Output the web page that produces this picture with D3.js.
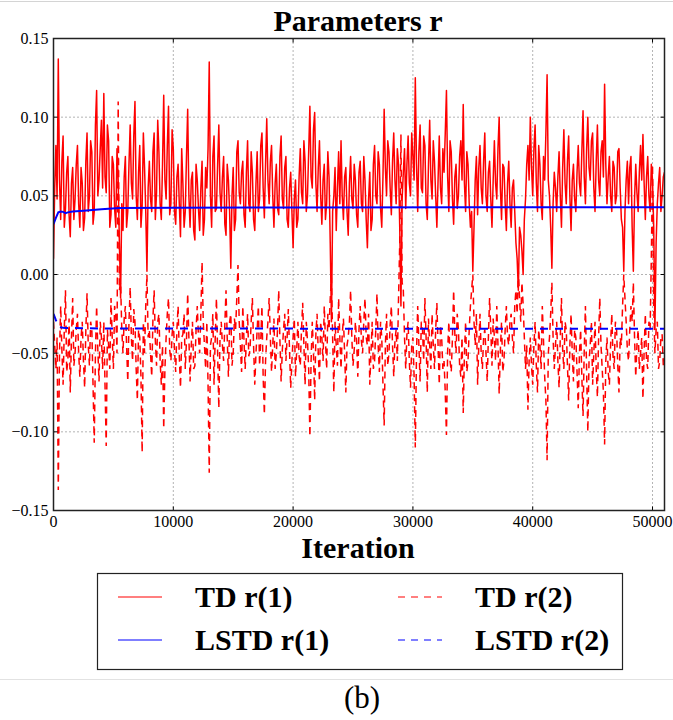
<!DOCTYPE html>
<html>
<head>
<meta charset="utf-8">
<script src="https://cdn.jsdelivr.net/npm/d3@7"></script>
<style>
  body { margin: 0; background: #fff; }
  svg text { font-family: "Liberation Serif", "Times New Roman", serif; }
</style>
</head>
<body>
<svg id="chart" width="673" height="720" font-family="Liberation Serif, serif"></svg>
<script>
// TD estimates, one value every 100 iterations (0 .. 51000)
var tdStep = 100;
var tdR1 = [
  0.010, 0.055, 0.082, 0.048, 0.137, 0.060, 0.035, 0.072, 0.088, 0.030, 0.042, 0.065, 0.075, 0.038, 0.024, 0.058, 0.068, 0.035, 0.048, 0.070,
  0.082, 0.045, 0.030, 0.068, 0.058, 0.028, 0.036, 0.072, 0.090, 0.040, 0.050, 0.085, 0.078, 0.032, 0.040, 0.095, 0.117, 0.050, 0.060, 0.080,
  0.098, 0.055, 0.115, 0.062, 0.052, 0.095, 0.085, 0.030, 0.038, 0.075, 0.070, 0.042, 0.030, 0.080, 0.060, 0.020, -0.015, 0.045, 0.028, 0.062,
  0.075, 0.030, 0.040, 0.070, 0.095, 0.058, 0.048, 0.088, 0.110, 0.050, 0.035, 0.065, 0.082, 0.030, 0.044, 0.090, 0.068, 0.040, 0.002, 0.055,
  0.072, 0.048, 0.040, 0.078, 0.090, 0.035, 0.052, 0.098, 0.078, 0.045, 0.035, 0.070, 0.114, 0.060, 0.048, 0.082, 0.107, 0.038, 0.045, 0.092,
  0.080, 0.040, 0.032, 0.062, 0.070, 0.045, 0.024, 0.080, 0.058, 0.030, 0.040, 0.075, 0.105, 0.050, 0.030, 0.060, 0.065, 0.028, 0.022, 0.070,
  0.060, 0.042, 0.028, 0.055, 0.072, 0.025, 0.035, 0.068, 0.055, 0.080, 0.135, 0.050, 0.030, 0.075, 0.088, 0.040, 0.042, 0.070, 0.095, 0.052,
  0.040, 0.062, 0.075, 0.032, 0.025, 0.070, 0.060, 0.040, 0.004, 0.050, 0.068, 0.028, 0.035, 0.078, 0.085, 0.052, 0.045, 0.065, 0.072, 0.038,
  0.030, 0.065, 0.085, 0.045, 0.040, 0.078, 0.065, 0.035, 0.028, 0.058, 0.078, 0.040, 0.048, 0.082, 0.090, 0.055, 0.036, 0.070, 0.099, 0.060,
  0.045, 0.072, 0.082, 0.050, 0.030, 0.058, 0.070, 0.042, 0.038, 0.075, 0.088, 0.048, 0.042, 0.068, 0.075, 0.035, 0.030, 0.055, 0.065, 0.040,
  0.017, 0.048, 0.060, 0.030, 0.035, 0.062, 0.080, 0.052, 0.045, 0.085, 0.072, 0.040, 0.050, 0.078, 0.107, 0.062, 0.055, 0.092, 0.103, 0.058,
  0.040, 0.068, 0.085, 0.050, 0.032, 0.060, 0.070, 0.035, 0.045, 0.078, 0.062, 0.020, -0.030, 0.040, 0.050, 0.068, 0.028, 0.055, 0.078, 0.045,
  0.085, 0.050, 0.035, 0.062, 0.068, 0.040, 0.025, 0.058, 0.075, 0.048, 0.042, 0.070, 0.060, 0.038, 0.030, 0.065, 0.072, 0.045, 0.040, 0.075,
  0.060, 0.035, 0.017, 0.048, 0.065, 0.028, 0.035, 0.070, 0.082, 0.050, 0.045, 0.078, 0.070, 0.042, 0.030, 0.062, 0.105, 0.068, 0.050, 0.085,
  0.078, 0.055, 0.038, 0.072, 0.090, 0.060, 0.045, 0.080, 0.070, 0.030, -0.020, 0.048, 0.065, 0.080, 0.042, 0.070, 0.088, 0.058, 0.050, 0.090,
  0.075, 0.060, 0.125, 0.070, 0.040, 0.078, 0.095, 0.055, 0.052, 0.088, 0.082, 0.045, 0.035, 0.070, 0.098, 0.060, 0.048, 0.085, 0.072, 0.050,
  0.030, 0.060, 0.088, 0.055, 0.045, 0.080, 0.065, 0.090, 0.117, 0.062, 0.040, 0.085, 0.078, 0.048, 0.032, 0.062, 0.070, 0.042, 0.050, 0.075,
  0.085, 0.060, 0.108, 0.058, 0.040, 0.078, 0.070, 0.045, 0.030, 0.040, 0.002, 0.030, 0.060, 0.075, 0.038, 0.068, 0.082, 0.055, 0.045, 0.072,
  0.090, 0.050, 0.040, 0.065, 0.072, 0.048, 0.030, 0.060, 0.085, 0.058, 0.048, 0.080, 0.100, 0.055, 0.035, 0.070, 0.068, 0.045, 0.028, 0.058,
  0.072, 0.045, 0.030, 0.055, 0.060, 0.040, 0.020, 0.010, -0.010, 0.030, 0.025, 0.015, 0.000, 0.035, 0.048, 0.070, 0.082, 0.060, 0.100, 0.068,
  0.050, 0.080, 0.095, 0.058, 0.040, 0.082, 0.070, 0.045, 0.035, 0.075, 0.060, 0.090, 0.127, 0.060, 0.050, 0.030, 0.004, 0.045, 0.065, 0.055,
  0.040, 0.062, 0.078, 0.050, 0.030, 0.068, 0.092, 0.058, 0.045, 0.072, 0.088, 0.050, 0.028, 0.060, 0.070, 0.048, 0.040, 0.065, 0.082, 0.058,
  0.050, 0.078, 0.104, 0.062, 0.045, 0.080, 0.100, 0.068, 0.060, 0.085, 0.090, 0.055, 0.040, 0.072, 0.095, 0.060, 0.050, 0.078, 0.085, 0.062,
  0.121, 0.070, 0.045, 0.062, 0.075, 0.050, 0.040, 0.072, 0.068, 0.045, 0.050, 0.078, 0.080, 0.055, 0.035, 0.030, 0.002, 0.040, 0.060, 0.072,
  0.045, 0.068, 0.075, 0.030, 0.002, 0.048, 0.070, 0.052, 0.040, 0.065, 0.082, 0.060, 0.089, 0.058, 0.035, 0.062, 0.075, 0.050, 0.040, 0.070,
  0.060, 0.030, -0.035, 0.020, 0.045, 0.058, 0.068, 0.040, 0.050, 0.062, 0.065
];
var tdR2 = [
  -0.030, -0.045, -0.060, -0.040, -0.137, -0.050, -0.020, -0.048, -0.070, -0.035, -0.010, -0.062, -0.055, -0.028, -0.075, -0.040, -0.015, -0.058, -0.050, -0.035,
  -0.025, -0.050, -0.065, -0.040, -0.030, -0.055, -0.072, -0.035, -0.012, -0.045, -0.058, -0.030, -0.035, -0.070, -0.107, -0.050, -0.020, -0.048, -0.068, -0.030,
  -0.040, -0.060, -0.030, -0.070, -0.109, -0.035, -0.045, -0.060, -0.015, -0.040, -0.060, -0.020, -0.025, -0.050, 0.110, -0.010, -0.005, -0.035, -0.050, -0.028,
  -0.020, -0.045, -0.068, -0.030, -0.008, -0.040, -0.055, -0.022, -0.030, -0.060, -0.080, -0.035, -0.040, -0.065, -0.113, -0.030, -0.050, -0.020, 0.000, -0.040,
  -0.035, -0.050, -0.065, -0.028, -0.010, -0.042, -0.058, -0.030, -0.025, -0.055, -0.070, -0.045, -0.098, -0.060, -0.040, -0.025, -0.015, -0.048, -0.055, -0.038,
  -0.030, -0.048, -0.062, -0.035, -0.020, -0.052, -0.072, -0.040, -0.038, -0.025, -0.060, -0.042, -0.012, -0.040, -0.068, -0.045, -0.030, -0.060, -0.058, -0.035,
  -0.020, -0.040, -0.050, -0.025, 0.008, -0.030, -0.045, -0.060, -0.030, -0.070, -0.126, -0.045, -0.040, -0.025, -0.070, -0.040, -0.015, -0.050, -0.085, -0.040,
  -0.030, -0.045, -0.055, -0.032, -0.010, -0.040, -0.065, -0.030, -0.025, -0.058, -0.050, -0.028, -0.035, -0.015, 0.006, -0.030, -0.045, -0.062, -0.020, -0.042,
  -0.060, -0.040, -0.025, -0.052, -0.048, -0.030, -0.015, -0.045, -0.070, -0.050, -0.035, -0.020, -0.058, -0.042, -0.020, -0.065, -0.089, -0.055, -0.040, -0.030,
  -0.015, -0.040, -0.062, -0.045, -0.028, -0.060, -0.050, -0.035, -0.010, -0.042, -0.068, -0.048, -0.035, -0.025, -0.055, -0.040, -0.022, -0.048, -0.072, -0.055,
  -0.040, -0.028, -0.065, -0.048, -0.030, -0.052, -0.058, -0.035, -0.018, -0.045, -0.070, -0.030, -0.042, -0.060, -0.103, -0.055, -0.030, -0.050, -0.080, -0.038,
  -0.025, -0.050, -0.068, -0.030, -0.040, -0.055, -0.020, -0.042, -0.060, -0.025, -0.035, -0.015, -0.002, -0.040, -0.075, -0.030, -0.045, -0.058, -0.015, -0.040,
  -0.060, -0.038, -0.028, -0.050, -0.075, -0.045, -0.040, -0.030, -0.010, -0.040, -0.058, -0.048, -0.030, -0.042, -0.065, -0.035, -0.020, -0.042, -0.050, -0.030,
  -0.015, -0.040, -0.045, -0.025, -0.070, -0.050, -0.030, -0.060, -0.055, -0.035, -0.012, -0.045, -0.062, -0.030, -0.040, -0.070, -0.096, -0.045, -0.025, -0.058,
  -0.050, -0.032, -0.020, -0.045, -0.065, -0.042, -0.035, -0.055, -0.015, 0.020, 0.089, -0.005, -0.010, -0.040, -0.060, -0.038, -0.030, -0.055, -0.072, -0.045,
  -0.040, -0.065, -0.110, -0.050, -0.020, -0.045, -0.068, -0.030, -0.035, -0.055, -0.015, -0.040, -0.075, -0.028, -0.045, -0.060, -0.025, -0.045, -0.060, -0.035,
  -0.018, -0.045, -0.070, -0.032, -0.040, -0.060, -0.055, -0.075, -0.102, -0.048, -0.030, -0.055, -0.062, -0.040, -0.010, -0.038, -0.050, -0.025, -0.035, -0.058,
  -0.065, -0.040, -0.088, -0.050, -0.030, -0.062, -0.055, -0.035, -0.020, -0.010, 0.000, -0.030, -0.045, -0.025, -0.070, -0.045, -0.025, -0.050, -0.060, -0.040,
  -0.035, -0.050, -0.068, -0.040, -0.015, -0.035, -0.058, -0.028, -0.040, -0.055, -0.020, -0.045, -0.076, -0.048, -0.030, -0.062, -0.055, -0.035, -0.020, -0.040,
  -0.045, -0.030, -0.025, -0.040, -0.050, -0.020, -0.010, -0.025, 0.002, -0.015, -0.030, -0.005, -0.019, -0.040, -0.060, -0.045, -0.086, -0.055, -0.040, -0.058,
  -0.070, -0.045, -0.030, -0.058, -0.075, -0.035, -0.045, -0.060, -0.020, -0.042, -0.065, -0.080, -0.118, -0.050, -0.040, -0.025, -0.005, -0.040, -0.060, -0.045,
  -0.030, -0.055, -0.072, -0.040, -0.015, -0.048, -0.060, -0.030, -0.035, -0.058, -0.080, -0.045, -0.025, -0.050, -0.068, -0.035, -0.040, -0.062, -0.085, -0.050,
  -0.035, -0.065, -0.090, -0.048, -0.020, -0.062, -0.100, -0.055, -0.045, -0.030, -0.070, -0.050, -0.030, -0.060, -0.078, -0.040, -0.015, -0.045, -0.060, -0.075,
  -0.108, -0.055, -0.040, -0.062, -0.070, -0.045, -0.025, -0.052, -0.060, -0.030, -0.035, -0.058, -0.075, -0.040, -0.045, -0.020, 0.000, -0.015, -0.030, -0.048,
  -0.055, -0.035, -0.020, -0.030, -0.005, -0.040, -0.065, -0.045, -0.035, -0.060, -0.050, -0.040, -0.079, -0.048, -0.025, -0.055, -0.060, -0.030, -0.035, 0.010,
  0.070, -0.020, -0.050, -0.035, -0.030, -0.060, -0.055, -0.040, -0.038, -0.058, -0.053
];

// LSTD estimates (smooth, so fewer points)
var lstdIter = [0, 200, 400, 600, 800, 1000, 1200, 1600, 2500, 4000, 5500, 10000, 20000, 35000, 51000];
var lstdR1 = [0.032, 0.036, 0.0395, 0.040, 0.0398, 0.039, 0.0395, 0.040, 0.0405, 0.0415, 0.0423, 0.0425, 0.0426, 0.0427, 0.0428];
var lstdR2 = [-0.025, -0.029, -0.0325, -0.0335, -0.0338, -0.034, -0.034, -0.034, -0.0342, -0.0343, -0.0344, -0.0344, -0.0344, -0.0345, -0.0345];

var xTicks = [0, 10000, 20000, 30000, 40000, 50000];
var yTicks = [-0.15, -0.10, -0.05, 0.00, 0.05, 0.10, 0.15];

var svg = d3.select("#chart");
var pLeft = 53.5, pRight = 664.5, pTop = 38.5, pBottom = 510.5;

var x = d3.scaleLinear().domain([0, 51000]).range([pLeft, pRight]);
var y = d3.scaleLinear().domain([-0.15, 0.15]).range([pBottom, pTop]);

// page separators
svg.append("line").attr("x1", 0).attr("x2", 673).attr("y1", 1.5).attr("y2", 1.5)
  .attr("stroke", "#d4d4d4").attr("stroke-width", 1);
svg.append("line").attr("x1", 0).attr("x2", 673).attr("y1", 679.5).attr("y2", 679.5)
  .attr("stroke", "#e2e2e2").attr("stroke-width", 1);

// grid
svg.append("g").selectAll("line").data(xTicks.slice(1)).join("line")
  .attr("x1", d => x(d)).attr("x2", d => x(d)).attr("y1", pTop).attr("y2", pBottom)
  .attr("stroke", "#000").attr("stroke-width", 0.6).attr("stroke-dasharray", "1,3");
svg.append("g").selectAll("line").data(yTicks.slice(1, -1)).join("line")
  .attr("x1", pLeft).attr("x2", pRight).attr("y1", d => y(d)).attr("y2", d => y(d))
  .attr("stroke", "#000").attr("stroke-width", 0.6).attr("stroke-dasharray", "1,3");

svg.append("clipPath").attr("id", "plot")
  .append("rect").attr("x", pLeft).attr("y", pTop).attr("width", pRight - pLeft).attr("height", pBottom - pTop);

var plot = svg.append("g").attr("clip-path", "url(#plot)");

var tdLine = d3.line().x((d, i) => x(i * tdStep)).y(d => y(d));
var lstdLine = d3.line().x((d, i) => x(lstdIter[i])).y(d => y(d));

plot.append("path").datum(tdR1).attr("d", tdLine)
  .attr("fill", "none").attr("stroke", "#ff0000").attr("stroke-width", 1.5)
  .attr("stroke-linejoin", "round");
plot.append("path").datum(tdR2).attr("d", tdLine)
  .attr("fill", "none").attr("stroke", "#ff0000").attr("stroke-width", 1.5)
  .attr("stroke-dasharray", "7,5");
plot.append("path").datum(lstdR1).attr("d", lstdLine)
  .attr("fill", "none").attr("stroke", "#0000ff").attr("stroke-width", 2);
plot.append("path").datum(lstdR2).attr("d", lstdLine)
  .attr("fill", "none").attr("stroke", "#0000ff").attr("stroke-width", 2)
  .attr("stroke-dasharray", "8,7");

// inner ticks on all sides
var tk = svg.append("g").attr("stroke", "#000").attr("stroke-width", 1);
xTicks.forEach(function(t) {
  tk.append("line").attr("x1", x(t)).attr("x2", x(t)).attr("y1", pBottom).attr("y2", pBottom - 4);
  tk.append("line").attr("x1", x(t)).attr("x2", x(t)).attr("y1", pTop).attr("y2", pTop + 4);
});
yTicks.forEach(function(t) {
  tk.append("line").attr("x1", pLeft).attr("x2", pLeft + 4).attr("y1", y(t)).attr("y2", y(t));
  tk.append("line").attr("x1", pRight).attr("x2", pRight - 4).attr("y1", y(t)).attr("y2", y(t));
});

svg.append("rect").attr("x", pLeft).attr("y", pTop).attr("width", pRight - pLeft).attr("height", pBottom - pTop)
  .attr("fill", "none").attr("stroke", "#222").attr("stroke-width", 1.5);

// tick labels
var fy = d3.format(".2f");
svg.append("g").selectAll("text").data(yTicks).join("text")
  .attr("x", pLeft - 5).attr("y", d => y(d)).attr("dy", "0.35em")
  .attr("text-anchor", "end").attr("font-size", 16).text(d => fy(d));
svg.append("g").selectAll("text").data(xTicks).join("text")
  .attr("x", d => x(d)).attr("y", 527)
  .attr("text-anchor", "middle").attr("font-size", 16).text(d => d);

svg.append("text").attr("x", 358).attr("y", 31).attr("text-anchor", "middle")
  .attr("font-size", 30).attr("font-weight", "bold").text("Parameters r");
svg.append("text").attr("x", 358).attr("y", 558).attr("text-anchor", "middle")
  .attr("font-size", 30).attr("font-weight", "bold").text("Iteration");

// legend
var legendItems = [
  { label: "TD r(1)", color: "#ff0000", dash: null, col: 0, row: 0 },
  { label: "TD r(2)", color: "#ff0000", dash: "7,6", col: 1, row: 0 },
  { label: "LSTD r(1)", color: "#0000ff", dash: null, col: 0, row: 1 },
  { label: "LSTD r(2)", color: "#0000ff", dash: "7,6", col: 1, row: 1 }
];
svg.append("rect").attr("x", 97.5).attr("y", 573.5).attr("width", 525).attr("height", 96)
  .attr("fill", "#fff").attr("stroke", "#222").attr("stroke-width", 1.2);
var lg = svg.append("g").selectAll("g").data(legendItems).join("g")
  .attr("transform", d => "translate(" + (118 + d.col * 280) + "," + (597 + d.row * 43) + ")");
lg.append("line").attr("x1", 0).attr("x2", 44).attr("y1", 0).attr("y2", 0)
  .attr("stroke", d => d.color).attr("stroke-width", 1.2)
  .attr("stroke-dasharray", d => d.dash);
lg.append("text").attr("x", 77).attr("y", 10).attr("font-size", 30).attr("font-weight", "bold")
  .text(d => d.label);

svg.append("text").attr("x", 362).attr("y", 708).attr("text-anchor", "middle")
  .attr("font-size", 31).text("(b)");
</script>
</body>
</html>
